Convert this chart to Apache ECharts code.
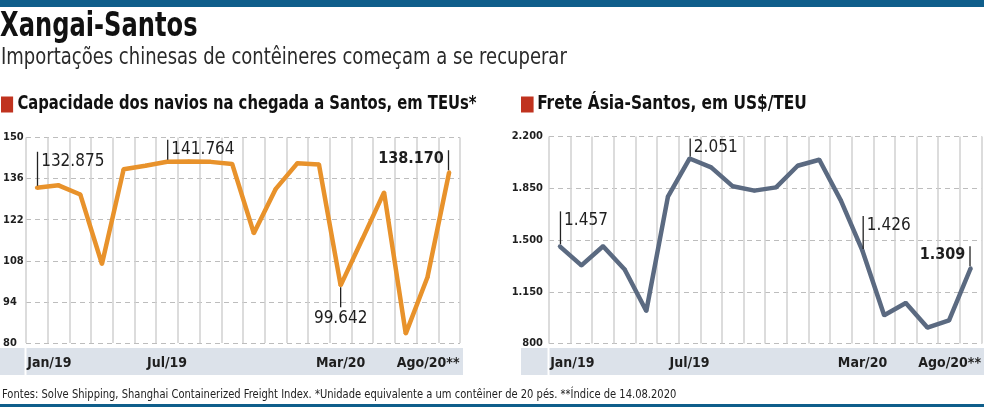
<!DOCTYPE html>
<html><head><meta charset="utf-8">
<script src="https://cdn.jsdelivr.net/npm/echarts@6/dist/echarts.min.js"></script>
<style>html,body{margin:0;padding:0;background:#fff}#c{width:984px;height:407px}</style>
</head><body><div id="c"></div>
<script>
// ---------- data ----------
const months = ['Jan/19','Fev/19','Mar/19','Abr/19','Mai/19','Jun/19','Jul/19','Ago/19','Set/19','Out/19','Nov/19','Dez/19',
                'Jan/20','Fev/20','Mar/20','Abr/20','Mai/20','Jun/20','Jul/20','Ago/20**'];
const shownMonthIdx = [0, 6, 14, 19];
// capacity in thousand TEUs
const capacity = [132.875, 133.7, 130.6, 106.9, 139.2, 140.4, 141.764, 141.8, 141.7, 141.0, 117.4, 132.4,
                  141.2, 140.8, 99.642, 115.4, 131.3, 83.2, 102.4, 138.170];
// freight US$/TEU
const freight = [1457, 1328, 1458, 1301, 1020, 1793, 2051, 1991, 1863, 1834, 1856, 2002,
                 2043, 1766, 1426, 991, 1074, 908, 957, 1309];
const capTicks = [80, 94, 108, 122, 136, 150];
const freightTicks = [800, 1150, 1500, 1850, 2200];
const capNotes = [0, 6, 14, 19];
const freightNotes = [0, 6, 14, 19];

// ---------- styling ----------
const FONT = '"DejaVu Sans Condensed", "Liberation Sans Narrow", sans-serif';
const ORANGE = '#E8922B';
const SLATE = '#5B6A81';
const BLUE = '#0F5E8B';
const BAND = '#DCE2EA';
const INK = '#1e1e1e';

const capNoteStyle = {0:['upRight',34,false], 6:['upRight',20,false], 14:['down',20,false], 19:['upLeft',20,true]};
const freightNoteStyle = {0:['upRight',33,false], 6:['upRight',18,false], 14:['upRight',33,false], 19:['upLeft',20,true]};

function ptBR(v){
  if (v >= 1000) return Math.floor(v/1000) + '.' + String(Math.round(v % 1000)).padStart(3,'0');
  return String(v);
}

function noteLabel(kind, len, bold, text){
  const v = {fontFamily: FONT, fontSize: bold ? 16 : 17, fontWeight: bold ? 'bold' : 'normal', color: INK, lineHeight: 17, verticalAlign: 'top'};
  const t = {width: 1.3, height: len, backgroundColor: '#222', verticalAlign: 'top'};
  if (kind === 'upRight') {
    return {show: true, position: 'top', distance: 0, align: 'left', verticalAlign: 'bottom',
      formatter: () => '{t|}{v|' + text + '}',
      rich: {t: t, v: Object.assign({}, v, {padding: [1,0,0,3]})}};
  }
  if (kind === 'upLeft') {
    return {show: true, position: 'top', distance: 0, align: 'right', verticalAlign: 'bottom',
      formatter: () => '{v|' + text + '}{t|}',
      rich: {t: t, v: Object.assign({}, v, {padding: [1,4,0,0]})}};
  }
  return {show: true, position: 'bottom', distance: 0, align: 'center', verticalAlign: 'top',
    formatter: () => '{t|}\n{v|' + text + '}',
    rich: {t: Object.assign({}, t, {align: 'center'}), v: Object.assign({}, v, {align: 'center', padding: [3,0,0,0]})}};
}

function buildData(values, notes, styles, fmt){
  return values.map((val, i) => {
    if (notes.indexOf(i) < 0) return val;
    const s = styles[i];
    return {value: val, label: noteLabel(s[0], s[1], s[2], fmt(val))};
  });
}

function xAxisCfg(gridIndex){
  const base = {fontFamily: FONT, fontSize: 14, fontWeight: 'bold', color: INK};
  return {
    type: 'category', gridIndex: gridIndex, data: months, boundaryGap: true,
    axisLine: {show: false}, axisTick: {show: false},
    splitLine: {show: true, interval: 0, lineStyle: {color: '#d0d0d0', width: 1.5}},
    axisLabel: Object.assign({}, base, {
      interval: (i) => shownMonthIdx.indexOf(i) >= 0,
      margin: 13,
      formatter: (v, i) => i === 0 ? '{first|' + v + '}' : (i === months.length - 1 ? '{last|' + v + '}' : '{mid|' + v + '}'),
      rich: {
        first: Object.assign({}, base, {padding: [0,0,0,25]}),
        last: Object.assign({}, base, {padding: [0,42,0,0]}),
        mid: Object.assign({}, base)
      }
    })
  };
}

function yAxisCfg(gridIndex, min, max, ticks, opts){
  return {
    type: 'value', gridIndex: gridIndex, min: min, max: max,
    axisLine: {show: false}, axisTick: {show: false, customValues: ticks},
    axisLabel: Object.assign({customValues: ticks, fontFamily: FONT, fontWeight: 'bold', color: INK}, opts),
    splitLine: {show: true, lineStyle: {type: [5,4], color: '#bdbdbd', width: 1}}
  };
}

function txt(x, y, sx, style){
  return {type: 'text', x: x, y: y, scaleX: sx, originX: 0, z: 5,
    style: Object.assign({fontFamily: FONT, fill: '#111', align: 'left', verticalAlign: 'top'}, style)};
}

const chart = echarts.init(document.getElementById('c'), null, {renderer: 'canvas'});
chart.setOption({
  animation: false,
  backgroundColor: '#fff',
  graphic: {elements: [
    {type: 'rect', z: -10, shape: {x: 0, y: 0, width: 984, height: 7}, style: {fill: BLUE}},
    {type: 'rect', z: -10, shape: {x: 0, y: 404, width: 984, height: 3}, style: {fill: BLUE}},
    {type: 'rect', z: -10, shape: {x: 0, y: 348, width: 463, height: 27}, style: {fill: BAND}},
    {type: 'rect', z: -9, shape: {x: 24.5, y: 348, width: 2, height: 27}, style: {fill: '#fff'}},
    {type: 'rect', z: -10, shape: {x: 521, y: 348, width: 463, height: 27}, style: {fill: BAND}},
    {type: 'rect', z: -9, shape: {x: 547.5, y: 348, width: 2, height: 27}, style: {fill: '#fff'}},
    txt(0, 10, 0.79, {text: 'Xangai-Santos', fontSize: 34, fontWeight: 'bold', fill: '#111'}),
    txt(1, 47, 0.87, {text: 'Importações chinesas de contêineres começam a se recuperar', fontSize: 23, fontWeight: 'normal', fill: '#2a2a2a'}),
    txt(1, 95, 0.865, {text: '{sq|}{h|Capacidade dos navios na chegada a Santos, em TEUs*}',
      rich: {sq: {width: 14, height: 16, backgroundColor: '#C0331F'},
             h: {fontFamily: FONT, fontSize: 19, fontWeight: 'bold', fill: '#111', padding: [0,0,0,5]}}}),
    txt(521, 95, 0.9, {text: '{sq|}{h|Frete Ásia-Santos, em US$/TEU}',
      rich: {sq: {width: 14, height: 16, backgroundColor: '#C0331F'},
             h: {fontFamily: FONT, fontSize: 19, fontWeight: 'bold', fill: '#111', padding: [0,0,0,4]}}}),
    txt(2, 388, 0.852, {text: 'Fontes: Solve Shipping, Shanghai Containerized Freight Index. *Unidade equivalente a um contêiner de 20 pés. **Índice de 14.08.2020',
      fontSize: 13, fontWeight: 'normal', fill: '#222'})
  ]},
  grid: [
    {left: 26, top: 137.5, width: 434, height: 205.5},
    {left: 549, top: 136.5, width: 433, height: 207}
  ],
  xAxis: [xAxisCfg(0), xAxisCfg(1)],
  yAxis: [
    yAxisCfg(0, 80, 150, capTicks, {align: 'left', margin: 23, fontSize: 11}),
    yAxisCfg(1, 800, 2200, freightTicks, {align: 'right', margin: 6, fontSize: 11, formatter: ptBR})
  ],
  series: [
    {type: 'line', xAxisIndex: 0, yAxisIndex: 0, z: 3,
      data: buildData(capacity, capNotes, capNoteStyle, v => v.toFixed(3)),
      symbol: 'circle', symbolSize: 4, showSymbol: true,
      color: ORANGE, itemStyle: {color: ORANGE}, lineStyle: {width: 4.5, color: ORANGE},
      emphasis: {disabled: true}, label: {show: false}},
    {type: 'line', xAxisIndex: 1, yAxisIndex: 1, z: 3,
      data: buildData(freight, freightNotes, freightNoteStyle, ptBR),
      symbol: 'circle', symbolSize: 4, showSymbol: true,
      color: SLATE, itemStyle: {color: SLATE}, lineStyle: {width: 4.5, color: SLATE},
      emphasis: {disabled: true}, label: {show: false}}
  ]
});
</script>
</body></html>
